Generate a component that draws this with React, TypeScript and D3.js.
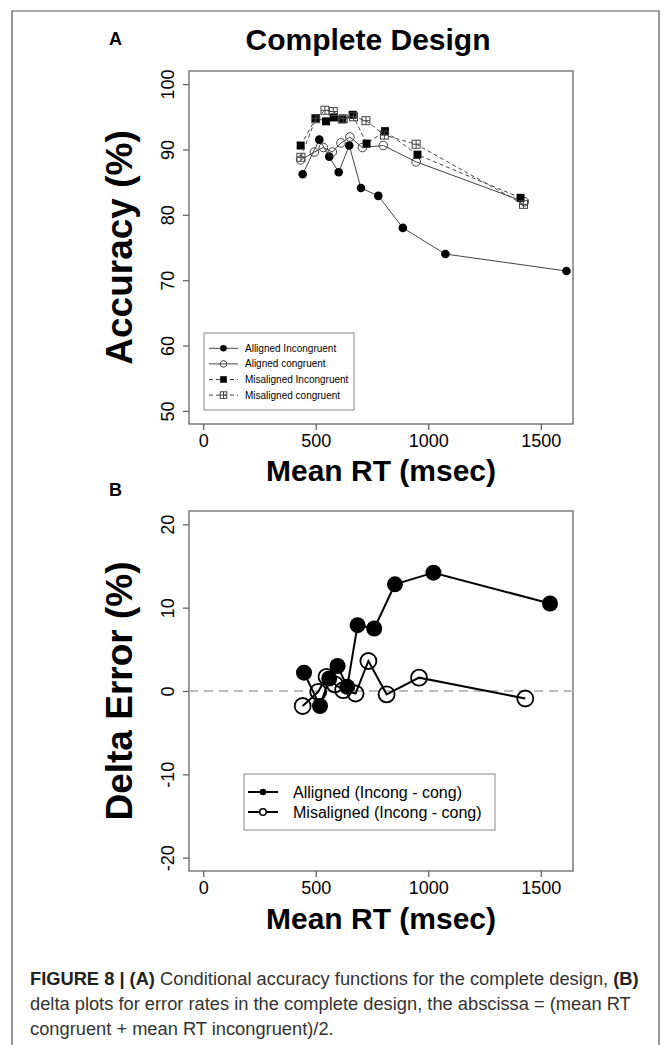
import React, { useEffect, useRef } from 'react';
import * as d3 from 'd3';

// ticks
const rtTicks = [0, 500, 1000, 1500];
const accTicks = [50, 60, 70, 80, 90, 100];
const deltaTicks = [-20, -10, 0, 10, 20];

// panel A - conditional accuracy functions
const alignedIncongRT = [442, 516, 560, 602, 649, 701, 778, 887, 1076, 1614];
const alignedIncongAcc = [86.2, 91.5, 88.9, 86.5, 90.6, 84.1, 82.9, 78.0, 74.0, 71.4];
const alignedCongRT = [433, 494, 534, 574, 612, 652, 707, 800, 946, 1427];
const alignedCongAcc = [88.4, 89.6, 90.3, 89.6, 91.0, 91.9, 90.3, 90.6, 88.1, 82.0];
const misIncongRT = [433, 501, 546, 581, 618, 664, 726, 808, 952, 1410];
const misIncongAcc = [90.6, 94.8, 94.3, 94.9, 94.6, 95.3, 90.9, 92.8, 89.2, 82.6];
const misCongRT = [434, 500, 541, 578, 622, 668, 723, 805, 946, 1423];
const misCongAcc = [88.8, 94.7, 96.0, 95.8, 94.7, 95.0, 94.4, 92.2, 90.8, 81.6];

// panel B - delta plots
const deltaAlignedRT = [448, 519, 560, 597, 640, 686, 760, 852, 1023, 1541];
const deltaAligned = [2.2, -1.8, 1.5, 3.0, 0.5, 7.9, 7.5, 12.8, 14.2, 10.5];
const deltaMisRT = [442, 511, 548, 585, 622, 677, 734, 815, 959, 1431];
const deltaMis = [-1.8, -0.1, 1.7, 0.8, 0.1, -0.3, 3.6, -0.4, 1.6, -0.9];

const legendA = ['Alligned Incongruent', 'Aligned congruent', 'Misaligned Incongruent', 'Misaligned congruent'];
const legendB = ['Alligned (Incong - cong)', 'Misaligned (Incong - cong)'];

const FONT = '"Liberation Sans", Arial, Helvetica, sans-serif';

const left = 189;
const right = 573;

const drawMarker = (g, type, cx, cy, size, color) => {
  if (type === 'filledCircle') {
    g.append('circle').attr('cx', cx).attr('cy', cy).attr('r', size).attr('fill', '#000');
  } else if (type === 'openCircle') {
    g.append('circle').attr('cx', cx).attr('cy', cy).attr('r', size)
      .attr('fill', 'none').attr('stroke', color).attr('stroke-width', size > 5 ? 1.8 : 1);
  } else if (type === 'filledSquare') {
    g.append('rect').attr('x', cx - size).attr('y', cy - size)
      .attr('width', size * 2).attr('height', size * 2).attr('fill', '#000');
  } else if (type === 'plusSquare') {
    g.append('rect').attr('x', cx - size).attr('y', cy - size)
      .attr('width', size * 2).attr('height', size * 2)
      .attr('fill', 'none').attr('stroke', color).attr('stroke-width', 1);
    g.append('path')
      .attr('d', `M${cx - size},${cy}H${cx + size}M${cx},${cy - size}V${cy + size}`)
      .attr('stroke', color).attr('stroke-width', 1);
  }
};

const drawAxes = (svg, x, y, yTicks, top, bottom, yTitle, xTitleY) => {
  svg.append('rect')
    .attr('x', left).attr('y', top)
    .attr('width', right - left).attr('height', bottom - top)
    .attr('fill', 'none').attr('stroke', '#666').attr('stroke-width', 1.3);

  const xAxis = svg.append('g')
    .attr('transform', `translate(0,${bottom})`)
    .call(d3.axisBottom(x).tickValues(rtTicks).tickSize(6).tickPadding(4).tickFormat((d) => String(d)));
  xAxis.select('.domain').remove();
  xAxis.selectAll('line').attr('stroke', '#666').attr('stroke-width', 1.3);
  xAxis.selectAll('text').attr('font-size', 18).attr('font-family', FONT).attr('fill', '#000');

  const yAxis = svg.append('g')
    .attr('transform', `translate(${left},0)`)
    .call(d3.axisLeft(y).tickValues(yTicks).tickSize(6).tickFormat((d) => String(d)));
  yAxis.select('.domain').remove();
  yAxis.selectAll('line').attr('stroke', '#666').attr('stroke-width', 1.3);
  yAxis.selectAll('text')
    .attr('x', 0).attr('y', -14.6).attr('dy', 0)
    .attr('transform', 'rotate(-90)')
    .attr('text-anchor', 'middle')
    .attr('font-size', 18).attr('font-family', FONT).attr('fill', '#000');

  svg.append('text')
    .attr('transform', `translate(132,${(top + bottom) / 2}) rotate(-90)`)
    .attr('text-anchor', 'middle')
    .attr('font-family', FONT).attr('font-weight', 'bold').attr('font-size', 37)
    .text(yTitle);

  svg.append('text')
    .attr('x', (left + right) / 2).attr('y', xTitleY)
    .attr('text-anchor', 'middle')
    .attr('font-family', FONT).attr('font-weight', 'bold').attr('font-size', 30)
    .text('Mean RT (msec)');
};

const drawChart = (svg) => {
  const x = d3.scaleLinear().domain([-63, 1643]).range([left, right]);

  // outer frame of the figure
  svg.append('path')
    .attr('d', 'M12,1060V11H659V1060')
    .attr('fill', 'none').attr('stroke', '#555').attr('stroke-width', 1.2);

  // ---------- panel A ----------
  const yA = d3.scaleLinear().domain([48, 102]).range([424, 71]);

  svg.append('text').attr('x', 109).attr('y', 45)
    .attr('font-family', FONT).attr('font-weight', 'bold').attr('font-size', 18).text('A');
  svg.append('text').attr('x', 368).attr('y', 50).attr('text-anchor', 'middle')
    .attr('font-family', FONT).attr('font-weight', 'bold').attr('font-size', 30).text('Complete Design');

  drawAxes(svg, x, yA, accTicks, 71, 424, 'Accuracy (%)', 481);

  const seriesA = [
    { rt: alignedIncongRT, acc: alignedIncongAcc, dash: null, marker: 'filledCircle' },
    { rt: alignedCongRT, acc: alignedCongAcc, dash: null, marker: 'openCircle' },
    { rt: misIncongRT, acc: misIncongAcc, dash: '4,3', marker: 'filledSquare' },
    { rt: misCongRT, acc: misCongAcc, dash: '4,3', marker: 'plusSquare' },
  ];

  const lineA = d3.line().x((d) => x(d[0])).y((d) => yA(d[1]));

  seriesA.forEach((s) => {
    const pts = s.rt.map((r, i) => [r, s.acc[i]]);
    const g = svg.append('g');
    g.append('path')
      .attr('d', lineA(pts))
      .attr('fill', 'none')
      .attr('stroke', '#444')
      .attr('stroke-width', 1)
      .attr('stroke-dasharray', s.dash);
    pts.forEach((p) => {
      const sz = s.marker.indexOf('Square') >= 0 ? 4 : 4.3;
      drawMarker(g, s.marker, x(p[0]), yA(p[1]), sz, '#444');
    });
  });

  // legend A
  const legA = svg.append('g');
  legA.append('rect').attr('x', 204).attr('y', 333).attr('width', 150).attr('height', 77)
    .attr('fill', '#fff').attr('stroke', '#888').attr('stroke-width', 1);
  legendA.forEach((label, i) => {
    const ly = 348.3 + i * 15.6;
    legA.append('line').attr('x1', 209).attr('x2', 238).attr('y1', ly).attr('y2', ly)
      .attr('stroke', '#444').attr('stroke-width', 1)
      .attr('stroke-dasharray', seriesA[i].dash);
    drawMarker(legA, seriesA[i].marker, 223.5, ly, 3.3, '#444');
    legA.append('text').attr('x', 245).attr('y', ly).attr('dy', '0.35em')
      .attr('font-family', FONT).attr('font-size', 10).text(label);
  });

  // ---------- panel B ----------
  const yB = d3.scaleLinear().domain([-21.6, 21.6]).range([871, 511]);

  svg.append('text').attr('x', 109).attr('y', 496)
    .attr('font-family', FONT).attr('font-weight', 'bold').attr('font-size', 18).text('B');

  drawAxes(svg, x, yB, deltaTicks, 511, 871, 'Delta Error (%)', 929);

  svg.append('line')
    .attr('x1', left).attr('x2', right).attr('y1', yB(0)).attr('y2', yB(0))
    .attr('stroke', '#bbb').attr('stroke-width', 2).attr('stroke-dasharray', '9,6');

  const seriesB = [
    { rt: deltaAlignedRT, val: deltaAligned, marker: 'filledCircle' },
    { rt: deltaMisRT, val: deltaMis, marker: 'openCircle' },
  ];
  const lineB = d3.line().x((d) => x(d[0])).y((d) => yB(d[1]));

  seriesB.forEach((s) => {
    const pts = s.rt.map((r, i) => [r, s.val[i]]);
    const g = svg.append('g');
    g.append('path').attr('d', lineB(pts))
      .attr('fill', 'none').attr('stroke', '#000').attr('stroke-width', 2);
    pts.forEach((p) => drawMarker(g, s.marker, x(p[0]), yB(p[1]), 8, '#000'));
  });

  // legend B
  const legB = svg.append('g');
  legB.append('rect').attr('x', 244).attr('y', 774).attr('width', 251).attr('height', 56)
    .attr('fill', '#fff').attr('stroke', '#888').attr('stroke-width', 1);
  legendB.forEach((label, i) => {
    const ly = 792 + i * 20;
    legB.append('line').attr('x1', 248).attr('x2', 278).attr('y1', ly).attr('y2', ly)
      .attr('stroke', '#000').attr('stroke-width', 2);
    if (i === 0) {
      legB.append('circle').attr('cx', 263).attr('cy', ly).attr('r', 3.3).attr('fill', '#000');
    } else {
      legB.append('circle').attr('cx', 263).attr('cy', ly).attr('r', 3.3)
        .attr('fill', '#fff').attr('stroke', '#000').attr('stroke-width', 1.5);
    }
    legB.append('text').attr('x', 293).attr('y', ly).attr('dy', '0.35em')
      .attr('font-family', FONT).attr('font-size', 16).text(label);
  });

  // ---------- caption ----------
  const cap = svg.append('g').attr('font-family', FONT).attr('font-size', 18.3).attr('fill', '#333');
  const l1 = cap.append('text').attr('x', 30).attr('y', 985);
  l1.append('tspan').attr('font-weight', 'bold').attr('fill', '#222').text('FIGURE 8 | (A)');
  l1.append('tspan').text(' Conditional accuracy functions for the complete design, ');
  l1.append('tspan').attr('font-weight', 'bold').attr('fill', '#222').text('(B)');
  cap.append('text').attr('x', 30).attr('y', 1010)
    .text('delta plots for error rates in the complete design, the abscissa = (mean RT');
  cap.append('text').attr('x', 30).attr('y', 1035)
    .text('congruent + mean RT incongruent)/2.');
};

const App = () => {
  const svgRef = useRef(null);

  useEffect(() => {
    const svg = d3.select(svgRef.current);
    svg.selectAll('*').remove();
    drawChart(svg);
  }, []);

  return (
    <svg
      ref={svgRef}
      width={671}
      height={1045}
      style={{ position: 'absolute', left: 0, top: 0, background: '#fff' }}
    />
  );
};

export default App;
